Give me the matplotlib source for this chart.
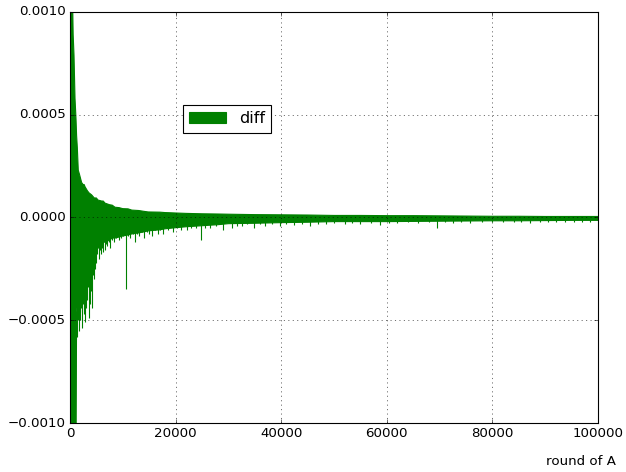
import matplotlib
matplotlib.use('Agg')
import matplotlib.pyplot as plt
import numpy as np

# upper / lower edge of the diff band
band_x = [0, 400, 600, 760, 950, 1140, 1250, 1390, 1570, 1800, 2000, 2210, 2500, 2700, 2840,
          3300, 3600, 4100, 4600, 5000, 5300, 6000, 6300, 6630, 7500, 8000, 8520, 9300, 10000,
          11000, 11700, 13000, 14000, 14800, 17000, 18000, 19900, 22000, 25000, 28000, 30000,
          35000, 40000, 45000, 50000, 55000, 60000, 65000, 70000, 75000, 80000, 85000, 90000,
          95000, 100000]
band_hi = [0.0012, 0.0012, 0.00089, 0.00079, 0.00058, 0.00048, 0.00040, 0.00034, 0.00023,
           0.00021, 0.00019, 0.00017, 0.00016, 0.00016, 0.00015, 0.00013, 0.00012, 0.00011,
           0.000095, 0.000095, 0.000085, 0.00008, 0.00008, 0.00007, 0.000062, 0.00006,
           0.00005, 0.000048, 0.000043, 0.000042, 0.000036, 0.000034, 0.00003, 0.000027,
           0.000026, 0.000024, 0.000022, 0.00002, 0.000018, 0.000017, 0.000016, 0.000014,
           0.000013, 0.000012, 0.00001, 0.00001, 0.000009, 0.000009, 0.000008, 0.000007,
           0.000006, 0.000006, 0.000005, 0.000005, 0.000005]
band_lo = [-0.0012, -0.0012, -0.0012, -0.0012, -0.0012, -0.0012, -0.00046, -0.00042,
           -0.00040, -0.00036, -0.00034, -0.00033, -0.00030, -0.00029, -0.00028, -0.00026,
           -0.00024, -0.00021, -0.00018, -0.00016, -0.00015, -0.00013, -0.00012, -0.00012,
           -0.00011, -0.0001, -0.0001, -0.000095, -0.00009, -0.000085, -0.00008, -0.000075,
           -0.00007, -0.000065, -0.00006, -0.000055, -0.00005, -0.000045, -0.00004,
           -0.000035, -0.00003, -0.000028, -0.000025, -0.000023, -0.00002, -0.00002,
           -0.00002, -0.000019, -0.000018, -0.000017, -0.000016, -0.000016, -0.000015,
           -0.000014, -0.000014]

# downward spikes
spike_x = [1300, 1500, 1700, 1850, 1950, 2100, 2270, 2400, 2560, 2700, 2840, 3050, 3220,
           3400, 3600, 3800, 3980, 4170, 4350, 4550, 4750, 4920, 5150, 5400, 5650, 5870,
           6100, 6300, 6630, 6900, 7100, 7350, 7580, 7900, 8300, 8700, 9200, 9600, 10100,
           10600, 11000, 11400, 11900, 12300, 12700, 13100, 13600, 14000, 14500, 15000,
           15500, 16100, 16600, 17100, 17600, 18500, 19500, 20300, 21000, 22200, 23000,
           23800, 24750, 25600, 26500, 27600, 29000, 30700, 31600, 32500, 33600, 34800,
           36000, 37000, 38300, 39800, 41000, 42500, 44000, 45500, 47000, 48500, 50000,
           52000, 53500, 55000, 57000, 58700, 60500, 62000, 64000, 66000, 68000, 69500,
           71000, 72500, 74000, 75800, 78000, 80000, 82000, 84000, 85500, 87100, 89000,
           90500, 92000, 93700, 95500, 97000, 98500]
spike_y = [-0.00058, -0.00050, -0.00055, -0.00046, -0.00050, -0.00044, -0.00054, -0.00042,
           -0.00047, -0.00040, -0.00051, -0.00044, -0.00040, -0.00034, -0.00049, -0.00042,
           -0.00036, -0.00044, -0.00028, -0.00030, -0.00025, -0.00022, -0.00018, -0.00020,
           -0.00016, -0.00018, -0.00015, -0.00017, -0.00016, -0.00013, -0.00014, -0.00012,
           -0.00015, -0.00011, -0.00012, -0.00010, -0.00011, -0.00010, -0.00009, -0.00035,
           -0.00009, -0.00010, -0.00008, -0.00012, -0.00008, -0.00009, -0.00007, -0.00010,
           -0.00007, -0.00008, -0.00009, -0.00006, -0.00008, -0.00006, -0.00008, -0.00006,
           -0.00007, -0.00005, -0.00006, -0.00006, -0.00005, -0.00005, -0.00011, -0.00005,
           -0.00005, -0.00004, -0.00006, -0.00005, -0.00004, -0.00004, -0.00003, -0.00005,
           -0.00003, -0.00004, -0.00003, -0.00004, -0.00003, -0.000035, -0.00003, -0.00004,
           -0.00003, -0.00003, -0.000025, -0.00003, -0.000025, -0.00003, -0.000025, -0.000035,
           -0.000025, -0.000025, -0.00002, -0.000025, -0.00002, -0.00005, -0.00002,
           -0.000025, -0.00002, -0.000025, -0.00002, -0.00002, -0.00002, -0.00002,
           -0.00002, -0.000025, -0.00002, -0.00002, -0.00002, -0.00002, -0.00002,
           -0.00002, -0.00002]

plt.style.use('classic')
fig = plt.figure(figsize=(626 / 80, 472 / 80), dpi=80)
ax = fig.add_axes([0.1118, 0.1038, 0.8435, 0.8708])

ax.fill_between(band_x, band_lo, band_hi, color='g', edgecolor='g', linewidth=1, label='diff')
ax.vlines(spike_x, 0, spike_y, color='g', linewidth=1)

ax.set_xlim(0, 100000)
ax.set_ylim(-0.001, 0.001)
ax.set_yticks([-0.001, -0.0005, 0, 0.0005, 0.001])
ax.grid(True)
ax.set_xlabel('round of A', ha='right')
ax.xaxis.set_label_coords(1.034, -0.078)
ax.legend(loc='upper left', bbox_to_anchor=(0.214, 0.774), borderaxespad=0,
          handlelength=2.3)

fig.savefig('out.png', dpi=80)
